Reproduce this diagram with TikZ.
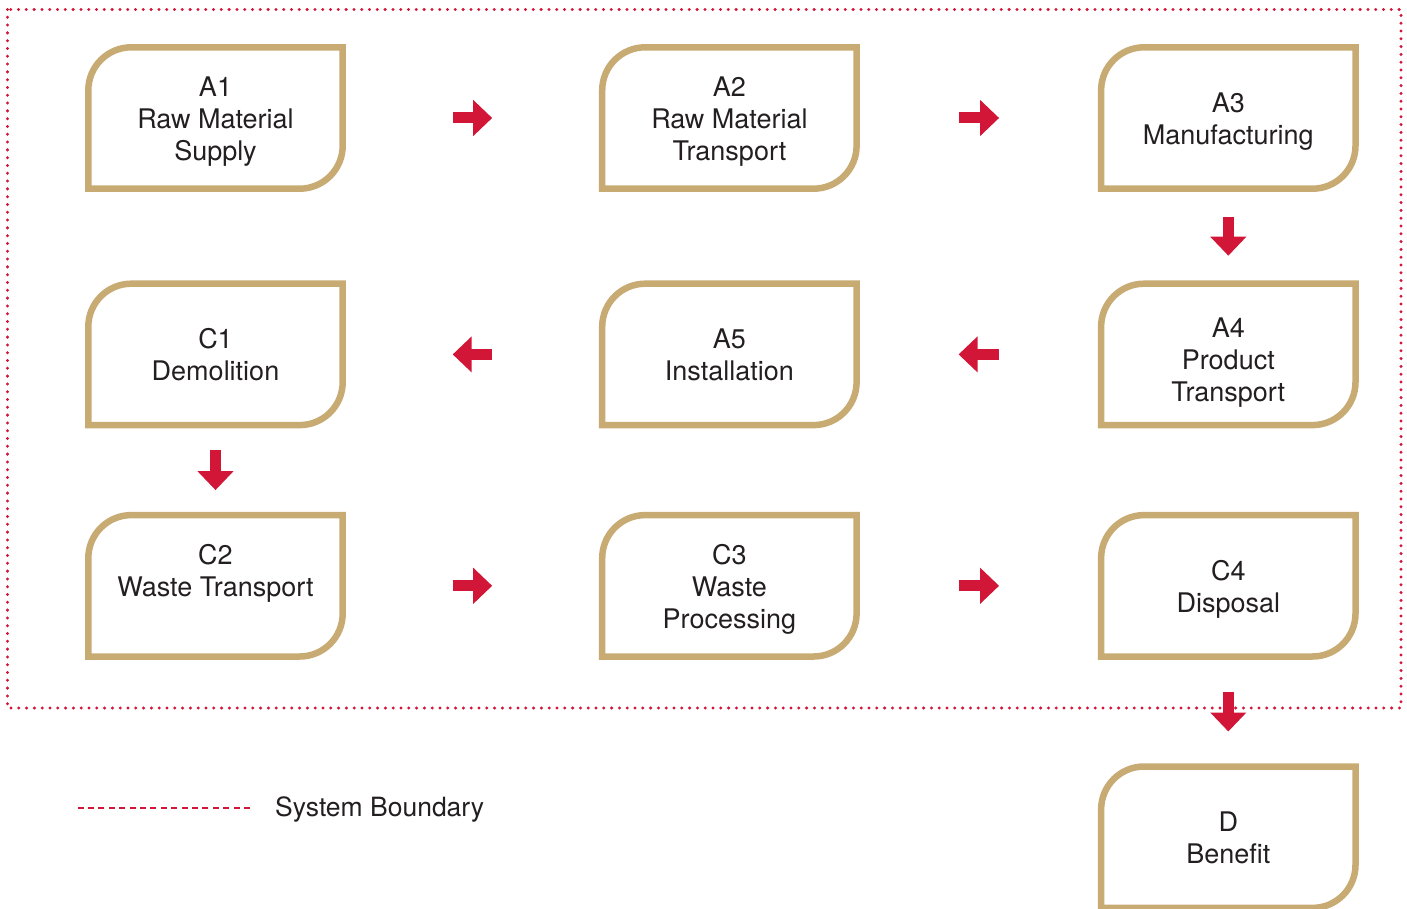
\documentclass[tikz,border=0pt]{standalone}
\usepackage{fontspec}
\setmainfont{TeX Gyre Heros}
\usepackage{tikz}
\usetikzlibrary{arrows.meta,positioning}

\definecolor{arrowred}{RGB}{210,22,55}
\definecolor{gold}{RGB}{200,170,115}
\definecolor{ink}{RGB}{35,31,32}

\begin{document}
\begin{tikzpicture}[x=1pt, y=-1pt,
    stagebox/.style={minimum width=254pt, minimum height=141pt, inner sep=0pt},
    stage/.style={stagebox, label={[stagetext]center:#1}},
    stagetext/.style={align=center, text=ink, inner sep=0pt, yshift=-5pt,
      font=\fontsize{27}{32}\selectfont,
      execute at begin node=\strut, execute at end node=\strut},
    outline/.style={draw=gold, line width=6.5pt},
    flow/.style={draw=arrowred, line width=11pt,
      -{Triangle[width=35pt,length=19pt]}},
    gap/.style={shorten <=#1, shorten >=#1},
    boundary/.style={draw=arrowred, line width=3.3pt, line cap=round,
      dash pattern=on 0pt off 7.8pt}]
    \useasboundingbox (0,0) rectangle (1407,909);

    % system boundary
    \draw [boundary] (7.5,9.5) rectangle (1401,708);

    \node [stage={A1\\Raw Material\\Supply}] (a1) at (215.5,118) {};
    \node [stage={A2\\Raw Material\\Transport}] (a2) [right=259.5pt of a1] {};
    \node [stage={A3\\Manufacturing}] (a3) [right=244.5pt of a2] {};
    \node [stagebox, label={[stagetext,yshift=-5pt]center:A4\\Product\\Transport}]
      (a4) [below=95pt of a3] {};
    \node [stage={A5\\Installation}] (a5) [below=95pt of a2] {};
    \node [stage={C1\\Demolition}] (c1) [below=95pt of a1] {};
    \node [stage={C2\\Waste Transport\\}] (c2) [below=90pt of c1] {};
    \node [stage={C3\\Waste\\Processing}] (c3) [below=90pt of a5] {};
    \node [stage={C4\\Disposal}] (c4) [below=90pt of a4] {};
    \node [stage={D\\Benefit}] (d) [below=110pt of c4] {};

    \foreach \n in {a1,a2,a3,a4,a5,c1,c2,c3,c4,d}
      \draw [outline] (\n.south west) -- ([yshift=-43pt]\n.north west)
        arc [start angle=180, end angle=90, radius=43pt]
        -- (\n.north east) -- ([yshift=43pt]\n.south east)
        arc [start angle=0, end angle=-90, radius=43pt] -- cycle;

    \path
    (a1) edge [flow,gap=110pt] (a2)
    (a2) edge [flow,gap=102pt] (a3)
    (a3) edge [flow,gap=28pt] (a4)
    (a4) edge [flow,gap=102pt] (a5)
    (a5) edge [flow,gap=110pt] (c1)
    (c1) edge [flow,gap=25pt] (c2)
    (c2) edge [flow,gap=110pt] (c3)
    (c3) edge [flow,gap=102pt] (c4)
    (c4) edge [flow,gap=35pt] (d)
    ;

    % legend
    \node [anchor=base west, inner sep=0pt, text=ink,
      font=\fontsize{26.5}{33}\selectfont]
      (legend) at (275,816) {System Boundary};
    \draw [arrowred, line width=2pt, dash pattern=on 6pt off 4.4pt]
      ([xshift=-25pt,yshift=8pt]legend.base west) -- ++(-176,0);
\end{tikzpicture}
\end{document}
